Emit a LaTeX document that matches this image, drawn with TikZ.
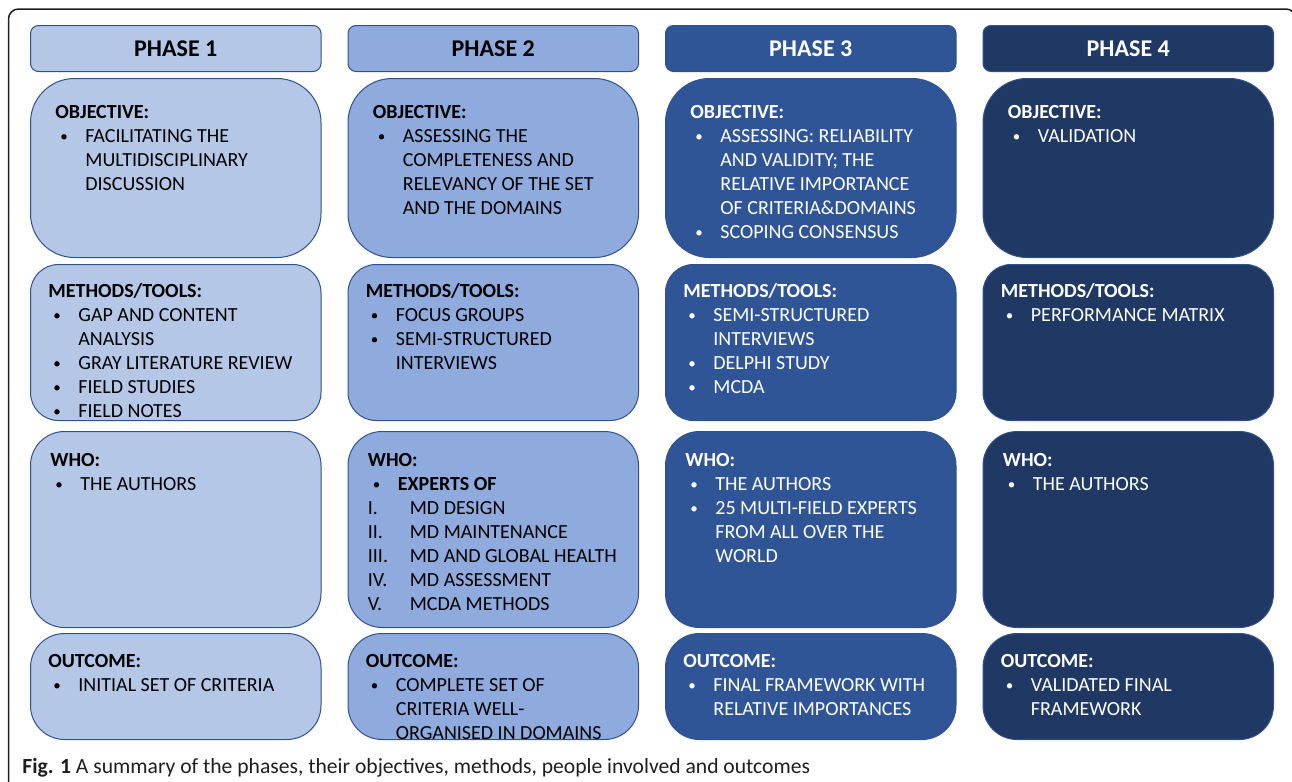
\documentclass[tikz,border=0pt]{standalone}
\usepackage{fontspec}
\setmainfont{Carlito}
\usetikzlibrary{positioning}
\definecolor{phaseOne}{RGB}{180,199,231}
\definecolor{phaseTwo}{RGB}{143,170,220}
\definecolor{phaseThree}{RGB}{47,85,151}
\definecolor{phaseFour}{RGB}{32,56,100}
\definecolor{boxBorder}{RGB}{47,82,143}
\definecolor{frameColor}{RGB}{30,30,30}
\newcommand{\bulletmark}{\makebox[15pt][l]{\hspace{2.5pt}\raisebox{0.6pt}{\scalebox{0.75}{\textbullet}}}}
\newcommand{\contindent}{\hspace*{15pt}}
\newcommand{\romanmark}[1]{\makebox[21pt][l]{#1}}
\tikzset{phasebox/.style={draw=boxBorder, line width=0.5pt, minimum width=145.25pt, inner sep=0pt},
  head/.style={phasebox, minimum height=23pt, rounded corners=4pt, font=\fontsize{12}{14}\selectfont\bfseries},
  objbox/.style={phasebox, minimum height=89.5pt, rounded corners=22pt},
  metbox/.style={phasebox, minimum height=78pt, rounded corners=14pt},
  whobox/.style={phasebox, minimum height=98pt, rounded corners=17pt},
  outbox/.style={phasebox, minimum height=53pt, rounded corners=17pt},
  boxtext/.style={anchor=north west, align=left, inner sep=0pt, font=\fontsize{10}{12}\selectfont},
  objtext/.style={boxtext, xshift=12.5pt, yshift=-13.5pt},
  mettext/.style={boxtext, xshift=9pt, yshift=-9.5pt},
  whotext/.style={boxtext, xshift=10pt, yshift=-11pt},
  outtext/.style={boxtext, xshift=9pt, yshift=-10.5pt},
  frame/.style={draw=frameColor, line width=0.75pt, rounded corners=5pt},
  caption/.style={anchor=base west, inner sep=0pt, text=frameColor, font=\fontsize{10.8}{13}\selectfont}}

\begin{document}
\begin{tikzpicture}[node distance=3pt and 13pt]
    \useasboundingbox (0,0) rectangle (646pt,-391pt);

    % Frame
    \draw [frame] (4.25pt,-400pt) -- (4.25pt,-4.5pt) -- (648pt,-4.5pt) -- (648pt,-400pt);

    % Phase headers
    \node (h1) [head, fill=phaseOne, anchor=north west] at (15pt,-12.5pt) {PHASE 1};
    \node (h2) [head, fill=phaseTwo, right=of h1] {PHASE 2};
    \node (h3) [head, fill=phaseThree, text=white, right=of h2] {PHASE 3};
    \node (h4) [head, fill=phaseFour, text=white, right=of h3] {PHASE 4};

    % Phase 1
    \node (o1) [objbox, fill=phaseOne, below=3pt of h1] {};
    \node (m1) [metbox, fill=phaseOne, below=3pt of o1] {};
    \node (w1) [whobox, fill=phaseOne, below=5pt of m1] {};
    \node (r1) [outbox, fill=phaseOne, below=2.5pt of w1] {};

    % Phase 2
    \node (o2) [objbox, fill=phaseTwo, below=3pt of h2] {};
    \node (m2) [metbox, fill=phaseTwo, below=3pt of o2] {};
    \node (w2) [whobox, fill=phaseTwo, below=5pt of m2] {};
    \node (r2) [outbox, fill=phaseTwo, below=2.5pt of w2] {};

    % Phase 3
    \node (o3) [objbox, fill=phaseThree, below=3pt of h3] {};
    \node (m3) [metbox, fill=phaseThree, below=3pt of o3] {};
    \node (w3) [whobox, fill=phaseThree, below=5pt of m3] {};
    \node (r3) [outbox, fill=phaseThree, below=2.5pt of w3] {};

    % Phase 4
    \node (o4) [objbox, fill=phaseFour, below=3pt of h4] {};
    \node (m4) [metbox, fill=phaseFour, below=3pt of o4] {};
    \node (w4) [whobox, fill=phaseFour, below=5pt of m4] {};
    \node (r4) [outbox, fill=phaseFour, below=2.5pt of w4] {};

    % Texts
    \node (ot1) [objtext] at (o1.north west) {\textbf{OBJECTIVE:}\\ \bulletmark FACILITATING THE\\ \contindent MULTIDISCIPLINARY\\ \contindent DISCUSSION};
    \node (mt1) [mettext] at (m1.north west) {\textbf{METHODS/TOOLS:}\\ \bulletmark GAP AND CONTENT\\ \contindent ANALYSIS\\ \bulletmark GRAY LITERATURE REVIEW\\ \bulletmark FIELD STUDIES\\ \bulletmark FIELD NOTES};
    \node (wt1) [whotext] at (w1.north west) {\textbf{WHO:}\\ \bulletmark THE AUTHORS};
    \node (rt1) [outtext] at (r1.north west) {\textbf{OUTCOME:}\\ \bulletmark INITIAL SET OF CRITERIA};

    \node (ot2) [objtext] at (o2.north west) {\textbf{OBJECTIVE:}\\ \bulletmark ASSESSING THE\\ \contindent COMPLETENESS AND\\ \contindent RELEVANCY OF THE SET\\ \contindent AND THE DOMAINS};
    \node (mt2) [mettext] at (m2.north west) {\textbf{METHODS/TOOLS:}\\ \bulletmark FOCUS GROUPS\\ \bulletmark SEMI-STRUCTURED\\ \contindent INTERVIEWS};
    \node (wt2) [whotext] at (w2.north west) {\textbf{WHO:}\\ \bulletmark \textbf{EXPERTS OF}\\ \romanmark{I.}MD DESIGN\\ \romanmark{II.}MD MAINTENANCE\\ \romanmark{III.}MD AND GLOBAL HEALTH\\ \romanmark{IV.}MD ASSESSMENT\\ \romanmark{V.}MCDA METHODS};
    \node (rt2) [outtext] at (r2.north west) {\textbf{OUTCOME:}\\ \bulletmark COMPLETE SET OF\\ \contindent CRITERIA WELL-\\ \contindent ORGANISED IN DOMAINS};

    \node (ot3) [objtext, text=white] at (o3.north west) {\textbf{OBJECTIVE:}\\ \bulletmark ASSESSING: RELIABILITY\\ \contindent AND VALIDITY; THE\\ \contindent RELATIVE IMPORTANCE\\ \contindent OF CRITERIA\&DOMAINS\\ \bulletmark SCOPING CONSENSUS};
    \node (mt3) [mettext, text=white] at (m3.north west) {\textbf{METHODS/TOOLS:}\\ \bulletmark SEMI-STRUCTURED\\ \contindent INTERVIEWS\\ \bulletmark DELPHI STUDY\\ \bulletmark MCDA};
    \node (wt3) [whotext, text=white] at (w3.north west) {\textbf{WHO:}\\ \bulletmark THE AUTHORS\\ \bulletmark 25 MULTI-FIELD EXPERTS\\ \contindent FROM ALL OVER THE\\ \contindent WORLD};
    \node (rt3) [outtext, text=white] at (r3.north west) {\textbf{OUTCOME:}\\ \bulletmark FINAL FRAMEWORK WITH\\ \contindent RELATIVE IMPORTANCES};

    \node (ot4) [objtext, text=white] at (o4.north west) {\textbf{OBJECTIVE:}\\ \bulletmark VALIDATION};
    \node (mt4) [mettext, text=white] at (m4.north west) {\textbf{METHODS/TOOLS:}\\ \bulletmark PERFORMANCE MATRIX};
    \node (wt4) [whotext, text=white] at (w4.north west) {\textbf{WHO:}\\ \bulletmark THE AUTHORS};
    \node (rt4) [outtext, text=white] at (r4.north west) {\textbf{OUTCOME:}\\ \bulletmark VALIDATED FINAL\\ \contindent FRAMEWORK};

    % Caption
    \node (cap) [caption] at (11pt,-386.5pt) {\textbf{Fig. 1} A summary of the phases, their objectives, methods, people involved and outcomes};

\end{tikzpicture}
\end{document}
